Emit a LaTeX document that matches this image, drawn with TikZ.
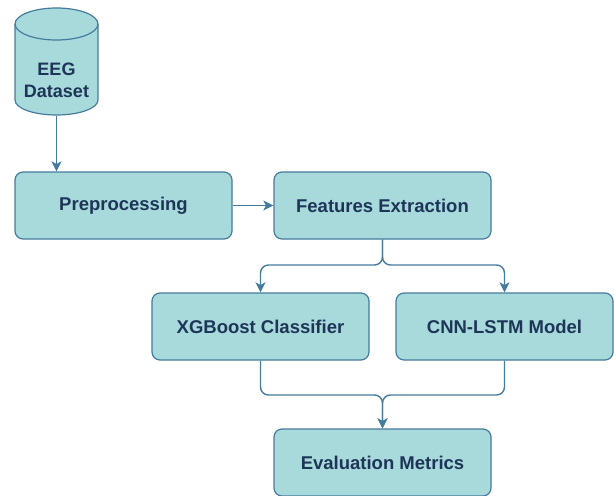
\documentclass[tikz,border=0pt]{standalone}
\usepackage{fontspec}
\setmainfont{Liberation Sans}
\usetikzlibrary{arrows.meta}
\definecolor{boxfill}{HTML}{A8DADC}
\definecolor{boxline}{HTML}{457B9D}
\definecolor{boxtext}{HTML}{1D3557}
\begin{document}
\begin{tikzpicture}[x=1pt,y=-1pt,
  procbox/.style={draw=boxline,fill=boxfill,line width=1.2pt,rounded corners=8pt,
    minimum width=217pt,minimum height=67pt,inner sep=0pt,text=boxtext,
    font=\fontsize{18.5}{22}\selectfont\bfseries},
  conn/.style={draw=boxline,line width=1.4pt,-{Stealth[length=10pt,width=10pt,inset=2.5pt]},rounded corners=8pt}]
\useasboundingbox (0,0) rectangle (614,496);
% cylinder
\draw[boxline,fill=boxfill,line width=1.2pt]
  (15,24) -- (15,100) arc[start angle=180,end angle=0,x radius=41.5,y radius=15]
  -- (98,24) arc[start angle=0,end angle=-180,x radius=41.5,y radius=16] -- cycle;
\draw[boxline,line width=1.2pt] (15,24) arc[start angle=180,end angle=0,x radius=41.5,y radius=16];
\node[inner sep=0pt,minimum width=83pt,minimum height=108pt] (db) at (56.5,62) {};
\node[inner sep=0pt,text=boxtext,align=center,
  font=\fontsize{18}{22}\selectfont\bfseries] (dblabel) at (56.5,80) {EEG\\Dataset};
\node[procbox] (pre) at (123.5,205.5) {Preprocessing};
\node[procbox] (fe) at (382.5,205.5) {Features Extraction};
\node[procbox] (xgb) at (260.5,326.5) {XGBoost Classifier};
\node[procbox] (cnn) at (504.5,326.5) {CNN-LSTM Model};
\node[procbox] (ev) at (382.5,462.5) {Evaluation Metrics};
\coordinate (split) at (382.5,265);
\coordinate (merge) at (382.5,395);
\draw[conn] (db.south) -- (pre.north -| db.south);
\draw[conn] (pre.east) -- (fe.west);
\draw[conn] (fe.south) -- (split) -| (xgb.north);
\draw[conn] (fe.south) -- (split) -| (cnn.north);
\draw[conn] (xgb.south) |- (merge) -- (ev.north);
\draw[conn] (cnn.south) |- (merge) -- (ev.north);
\end{tikzpicture}
\end{document}
